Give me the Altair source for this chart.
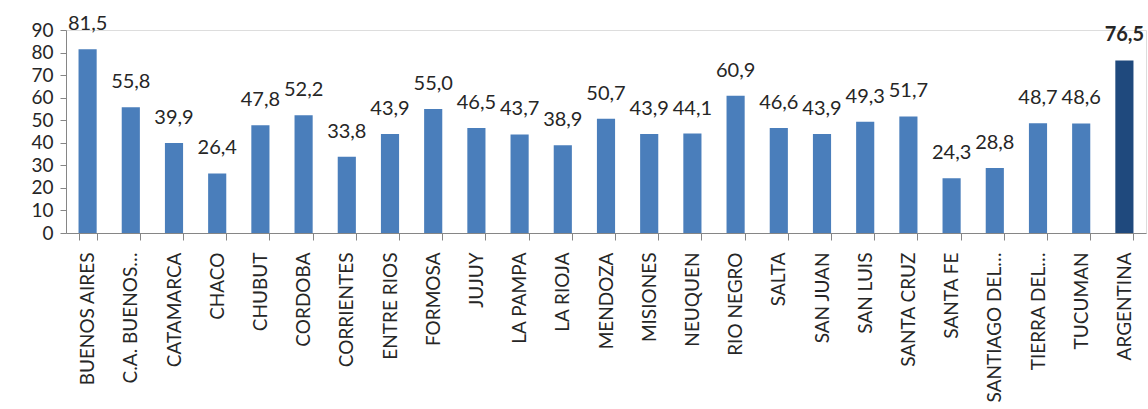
import altair as alt
import pandas as pd

provinces = ["BUENOS AIRES", "C.A. BUENOS…", "CATAMARCA", "CHACO", "CHUBUT", "CORDOBA",
             "CORRIENTES", "ENTRE RIOS", "FORMOSA", "JUJUY", "LA PAMPA", "LA RIOJA",
             "MENDOZA", "MISIONES", "NEUQUEN", "RIO NEGRO", "SALTA", "SAN JUAN",
             "SAN LUIS", "SANTA CRUZ", "SANTA FE", "SANTIAGO DEL…", "TIERRA DEL…",
             "TUCUMAN", "ARGENTINA"]
values = [81.5, 55.8, 39.9, 26.4, 47.8, 52.2, 33.8, 43.9, 55.0, 46.5, 43.7, 38.9,
          50.7, 43.9, 44.1, 60.9, 46.6, 43.9, 49.3, 51.7, 24.3, 28.8, 48.7, 48.6, 76.5]
y_ticks = [0, 10, 20, 30, 40, 50, 60, 70, 80, 90]

df = pd.DataFrame({"name": provinces, "value": values})
FONT = "Lato"
is_total = alt.datum.name == "ARGENTINA"

base = alt.Chart(df).transform_calculate(
    label="replace(format(datum.value, '.1f'), '.', ',')"
)

x = alt.X("name:N", sort=provinces, title=None,
          scale=alt.Scale(paddingInner=0.58, paddingOuter=0.29),
          axis=alt.Axis(labelAngle=-90, labelAlign="right", labelBaseline="middle",
                        labelFontSize=19, labelFont=FONT, labelColor="#262626",
                        tickBand="extent", tickSize=7, tickColor="#868686",
                        domainColor="#868686", labelPadding=12, labelLimit=200,
                        labelOverlap=False))
y = alt.Y("value:Q", title=None,
          scale=alt.Scale(domain=[0, 90], nice=False),
          axis=alt.Axis(values=y_ticks, labelFontSize=19, labelFont=FONT,
                        labelColor="#262626", grid=False, tickSize=6,
                        tickColor="#868686", domainColor="#868686", labelPadding=7,
                        labelOverlap=False, labelBaseline="middle"))

bars = base.mark_bar().encode(
    x=x, y=y,
    color=alt.condition(is_total, alt.value("#1F497D"), alt.value("#4A7EBB")),
)

labels = base.transform_filter(alt.datum.name != "ARGENTINA").mark_text(
    baseline="alphabetic", dy=-19, fontSize=20, font=FONT, color="#262626"
).encode(x=x, y=y, text="label:N")

total_label = base.transform_filter(is_total).mark_text(
    baseline="alphabetic", dy=-19, fontSize=20, font=FONT, color="#262626",
    fontWeight="bold"
).encode(x=x, y=y, text="label:N")

chart = (bars + labels + total_label).properties(
    width=1080, height=203,
    autosize=alt.AutoSizeParams(type="none"),
    padding={"left": 66, "top": 30, "right": 2, "bottom": 176},
).configure_view(stroke=None).configure(background="white")

chart.save("out.html", embed_options={"renderer": "svg", "actions": False})
